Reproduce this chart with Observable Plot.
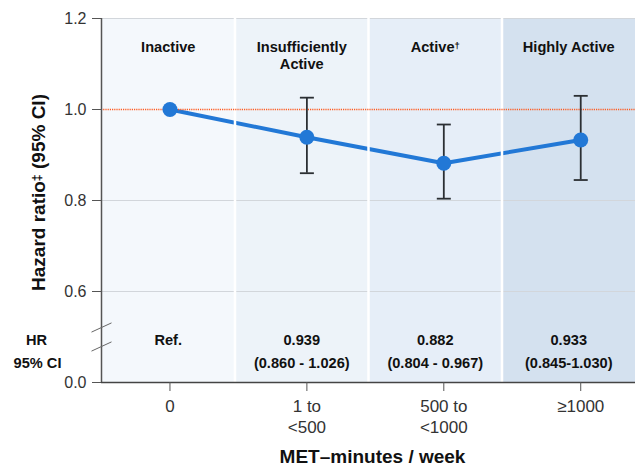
<!DOCTYPE html>
<html>
<head>
<meta charset="utf-8">
<script src="https://cdn.jsdelivr.net/npm/d3@7"></script>
<script src="https://cdn.jsdelivr.net/npm/@observablehq/plot@0.6"></script>
<style>
  html, body { margin: 0; padding: 0; background: #fff; }
  #chart svg { font-family: "Liberation Sans", Arial, sans-serif; }
</style>
</head>
<body>
<div id="chart"></div>
<script>
// ---- data ----
const categories = ["0", "1 to\n<500", "500 to\n<1000", "≥1000"];
const groups = ["Inactive", "Insufficiently\nActive", "Active†", "Highly Active"];
const hr = [1.0, 0.939, 0.882, 0.933];
const ciLow = [null, 0.860, 0.804, 0.845];
const ciHigh = [null, 1.026, 0.967, 1.030];
const hrLabels = ["Ref.", "0.939", "0.882", "0.933"];
const ciLabels = ["", "(0.860 - 1.026)", "(0.804 - 0.967)", "(0.845-1.030)"];
const yTicks = [0.4, 0.6, 0.8, 1.0, 1.2];
const yTickLabels = ["0.0", "0.6", "0.8", "1.0", "1.2"];
const gridValues = [0.6, 0.8, 1.2];
const refValue = 1.0;
const xTitle = "MET–minutes / week";
const yTitle = "Hazard ratio‡ (95% CI)";
const rowTitles = ["HR", "95% CI"];

// ---- styles ----
const bandColors = ["#f4f8fc", "#edf3f9", "#e6eef8", "#d4e1ef"];
const blue = "#2278d6";

const xMin = -0.5, xMax = 3.4;
const bandW = (xMax - xMin) / categories.length;
const rows = categories.map((c, i) => ({
  i, cat: c, group: groups[i], hr: hr[i], lo: ciLow[i], hi: ciHigh[i],
  hrLabel: hrLabels[i], ciLabel: ciLabels[i],
  x1: xMin + i * bandW, x2: xMin + (i + 1) * bandW,
  fill: bandColors[i]
}));
const rowsCI = rows.filter(d => d.lo != null);
const mid = d => (d.x1 + d.x2) / 2;

const capSymbol = {
  draw(ctx, size) { const w = Math.sqrt(size / Math.PI); ctx.moveTo(-w, 0); ctx.lineTo(w, 0); }
};
const breakSymbol = {
  draw(ctx, size) { ctx.moveTo(-10, 4.6); ctx.lineTo(10, -4.6); }
};

const chart = Plot.plot({
  width: 635,
  height: 471,
  marginLeft: 101,
  marginRight: 0,
  marginTop: 18,
  marginBottom: 89,
  x: { domain: [xMin, xMax], axis: null },
  y: { domain: [0.4, 1.2], axis: null },
  marks: [
    Plot.rect(rows, { x1: "x1", x2: "x2", y1: 0.4, y2: 1.2, fill: d => d.fill }),
    Plot.ruleY(gridValues, { stroke: "#d2d6db", strokeWidth: 1.2 }),
    Plot.line(rows, { x: "i", y: "hr", stroke: blue, strokeWidth: 4 }),
    Plot.ruleX(rows.slice(0, -1), { x: "x2", y1: 0.4, y2: 1.2, stroke: "#fff", strokeWidth: 2.5 }),
    Plot.ruleY([refValue], { stroke: "#ff5a1f", strokeWidth: 1.4, strokeDasharray: "1.2,1" }),
    Plot.ruleX(rowsCI, { x: "i", y1: "lo", y2: "hi", stroke: "#2b2f33", strokeWidth: 1.8 }),
    Plot.dot(rowsCI, { x: "i", y: "lo", r: 7, symbol: capSymbol, stroke: "#2b2f33", strokeWidth: 1.8, fill: "none" }),
    Plot.dot(rowsCI, { x: "i", y: "hi", r: 7, symbol: capSymbol, stroke: "#2b2f33", strokeWidth: 1.8, fill: "none" }),
    Plot.dot(rows, { x: "i", y: "hr", r: 7.5, fill: blue, stroke: "none" }),
    // group labels
    Plot.text(rows, { x: mid, frameAnchor: "top", text: "group", lineAnchor: "top", dy: 21, fontSize: 14.6, fontWeight: "bold", fill: "#111", lineHeight: 1.2 }),
    // HR / CI rows
    Plot.text(rows, { x: mid, frameAnchor: "bottom", text: "hrLabel", dy: -38, fontSize: 14.6, fontWeight: "bold", fill: "#111" }),
    Plot.text(rows, { x: mid, frameAnchor: "bottom", text: "ciLabel", dy: -15, fontSize: 14.6, fontWeight: "bold", fill: "#111" }),
    Plot.text([rowTitles[0]], { frameAnchor: "bottom-left", textAnchor: "middle", text: d => d, dx: -65, dy: -38, fontSize: 14.6, fontWeight: "bold", fill: "#111" }),
    Plot.text([rowTitles[1]], { frameAnchor: "bottom-left", textAnchor: "middle", text: d => d, dx: -64, dy: -15, fontSize: 14.6, fontWeight: "bold", fill: "#111" }),
    // axis lines
    Plot.ruleX([xMin], { y1: 0.4, y2: 1.2, stroke: "#555", strokeWidth: 1.5 }),
    Plot.ruleY([0.4], { stroke: "#444", strokeWidth: 1.5 }),
    Plot.dot([0], { x: xMin, y: 0.4, dy: -55, r: 5, symbol: breakSymbol, stroke: "#666", strokeWidth: 1, fill: "none" }),
    Plot.dot([0], { x: xMin, y: 0.4, dy: -36, r: 5, symbol: breakSymbol, stroke: "#666", strokeWidth: 1, fill: "none" }),
    // axes
    Plot.axisY(yTicks, { tickFormat: d => yTickLabels[yTicks.indexOf(d)], tickSize: 9, tickPadding: 6, fontSize: 16, stroke: "#555", fill: "#333", label: null }),
    Plot.axisX(d3.range(categories.length), { tickFormat: i => categories[i], tickSize: 9, tickPadding: 5, fontSize: 17, lineHeight: 1.25, stroke: "#555", fill: "#333", label: null }),
    // titles
    Plot.text([xTitle], { frameAnchor: "bottom", text: d => d, dy: 80, dx: 4, fontSize: 19, fontWeight: "bold", fill: "#111" }),
    Plot.text([yTitle], { frameAnchor: "left", textAnchor: "middle", text: d => d, rotate: -90, dx: -63, dy: -8, fontSize: 19, fontWeight: "bold", fill: "#111" })
  ]
});

// render footnote marks (†, ‡) as superscripts
(function superscripts(svg) {
  const ns = "http://www.w3.org/2000/svg";
  const walker = document.createTreeWalker(svg, NodeFilter.SHOW_TEXT);
  const nodes = [];
  while (walker.nextNode()) if (/[†‡]/.test(walker.currentNode.nodeValue)) nodes.push(walker.currentNode);
  for (const n of nodes) {
    const frag = document.createDocumentFragment();
    for (const p of n.nodeValue.split(/([†‡])/)) {
      if (!p) continue;
      if (p === "†" || p === "‡") {
        const t = document.createElementNS(ns, "tspan");
        t.setAttribute("font-size", "65%");
        t.setAttribute("baseline-shift", "35%");
        t.textContent = p;
        frag.appendChild(t);
      } else {
        frag.appendChild(document.createTextNode(p));
      }
    }
    n.parentNode.replaceChild(frag, n);
  }
})(chart);

document.getElementById("chart").appendChild(chart);
</script>
</body>
</html>
